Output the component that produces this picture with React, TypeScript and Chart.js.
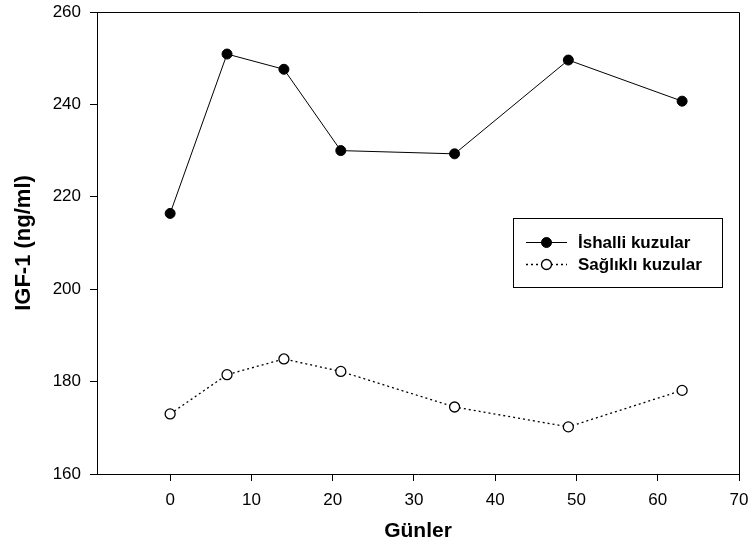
import React, { useEffect, useRef } from "react";
import { Chart, registerables } from "chart.js";

Chart.register(...registerables);

const days = [0, 7, 14, 21, 35, 49, 63];
const ishalli = [216.4, 250.9, 247.6, 230.0, 229.3, 249.6, 240.7];
const saglikli = [173.0, 181.5, 184.9, 182.2, 174.5, 170.2, 178.1];
const xTicks = [0, 10, 20, 30, 40, 50, 60, 70];
const yTicks = [160, 180, 200, 220, 240, 260];
const seriesLabels = ["İshalli kuzular", "Sağlıklı kuzular"];
const xTitle = "Günler";
const yTitle = "IGF-1 (ng/ml)";

const FONT = "'Liberation Sans', Arial, Helvetica, sans-serif";

const framePlugin = {
  id: "frame",
  afterDraw(chart: any) {
    const { ctx, chartArea } = chart;
    ctx.save();
    ctx.strokeStyle = "#000";
    ctx.lineWidth = 1;
    ctx.beginPath();
    ctx.moveTo(Math.round(chartArea.left) + 0.5, Math.round(chartArea.top) + 0.5);
    ctx.lineTo(Math.round(chartArea.right) + 0.5, Math.round(chartArea.top) + 0.5);
    ctx.lineTo(Math.round(chartArea.right) + 0.5, Math.round(chartArea.bottom) + 0.5);
    ctx.stroke();
    ctx.restore();
  },
};

const boxLegendPlugin = {
  id: "boxLegend",
  afterDraw(chart: any, _args: any, opts: any) {
    const { ctx } = chart;
    const { left, top, width, height, rowGap, lineLen, textGap, firstRowOffset } = opts;
    ctx.save();
    ctx.fillStyle = "#fff";
    ctx.fillRect(left, top, width, height);
    ctx.strokeStyle = "#000";
    ctx.lineWidth = 1;
    ctx.strokeRect(left + 0.5, top + 0.5, width, height);
    chart.data.datasets.forEach((ds: any, i: number) => {
      const y = top + firstRowOffset + i * rowGap;
      const x0 = left + 13;
      ctx.save();
      ctx.strokeStyle = ds.borderColor;
      ctx.lineWidth = ds.borderWidth;
      ctx.setLineDash(ds.borderDash || []);
      ctx.beginPath();
      ctx.moveTo(x0, y + 0.5);
      ctx.lineTo(x0 + lineLen, y + 0.5);
      ctx.stroke();
      ctx.restore();
      ctx.beginPath();
      ctx.arc(x0 + lineLen / 2, y + 0.5, ds.pointRadius, 0, Math.PI * 2);
      ctx.fillStyle = ds.pointBackgroundColor;
      ctx.fill();
      ctx.lineWidth = ds.pointBorderWidth;
      ctx.strokeStyle = ds.pointBorderColor;
      ctx.stroke();
      ctx.fillStyle = "#000";
      ctx.font = `bold 17px ${FONT}`;
      ctx.textBaseline = "middle";
      ctx.textAlign = "left";
      ctx.fillText(ds.label, x0 + lineLen + textGap, y + 1);
    });
    ctx.restore();
  },
};

export default function App() {
  const ref = useRef<HTMLCanvasElement | null>(null);

  useEffect(() => {
    if (!ref.current) return;
    const chart = new Chart(ref.current, {
      type: "line",
      data: {
        datasets: [
          {
            label: seriesLabels[0],
            data: days.map((d, i) => ({ x: d, y: ishalli[i] })),
            borderColor: "#000",
            borderWidth: 1,
            pointRadius: 5,
            pointBackgroundColor: "#000",
            pointBorderColor: "#000",
            pointBorderWidth: 1,
            tension: 0,
          },
          {
            label: seriesLabels[1],
            data: days.map((d, i) => ({ x: d, y: saglikli[i] })),
            borderColor: "#000",
            borderWidth: 1.3,
            borderDash: [2, 3],
            pointRadius: 5,
            pointBackgroundColor: "#fff",
            pointBorderColor: "#000",
            pointBorderWidth: 1.3,
            tension: 0,
          },
        ],
      },
      options: {
        responsive: false,
        animation: false,
        devicePixelRatio: 1,
        layout: { padding: { top: 12, right: 16, left: 0, bottom: 0 } },
        plugins: {
          legend: { display: false },
          tooltip: { enabled: false },
          boxLegend: {
            left: 513,
            top: 218,
            width: 209,
            height: 69,
            rowGap: 22,
            lineLen: 41,
            textGap: 11,
            firstRowOffset: 24,
          },
        } as any,
        scales: {
          x: {
            type: "linear",
            min: -9,
            max: 70,
            afterBuildTicks: (scale: any) => {
              scale.ticks = xTicks.map((v) => ({ value: v }));
            },
            afterFit: (scale: any) => {
              scale.height = 77;
              scale.paddingLeft = 0;
              scale.paddingRight = 0;
            },
            ticks: {
              autoSkip: false,
              maxRotation: 0,
              color: "#000",
              font: { family: FONT, size: 17 },
              padding: 9,
            },
            grid: {
              drawOnChartArea: false,
              drawTicks: true,
              tickLength: 7,
              tickColor: "#000",
              tickWidth: 1,
            },
            border: { display: true, color: "#000", width: 1 },
            title: {
              display: true,
              text: xTitle,
              color: "#000",
              font: { family: FONT, size: 21, weight: "bold" },
              padding: { top: 0, bottom: 7 },
            },
          },
          y: {
            type: "linear",
            min: 160,
            max: 260,
            afterBuildTicks: (scale: any) => {
              scale.ticks = yTicks.map((v) => ({ value: v }));
            },
            afterFit: (scale: any) => {
              scale.width = 97;
              scale.paddingTop = 0;
              scale.paddingBottom = 0;
            },
            ticks: {
              color: "#000",
              font: { family: FONT, size: 17 },
              padding: 9,
            },
            grid: {
              drawOnChartArea: false,
              drawTicks: true,
              tickLength: 7,
              tickColor: "#000",
              tickWidth: 1,
            },
            border: { display: true, color: "#000", width: 1 },
            title: {
              display: true,
              text: yTitle,
              color: "#000",
              font: { family: FONT, size: 22, weight: "bold" },
              padding: { top: 11, bottom: 0 },
            },
          },
        },
      },
      plugins: [framePlugin, boxLegendPlugin],
    } as any);
    return () => chart.destroy();
  }, []);

  return (
    <div style={{ position: "absolute", left: 0, top: 0, width: 755, height: 551, background: "#fff" }}>
      <canvas ref={ref} width={755} height={551} />
    </div>
  );
}
